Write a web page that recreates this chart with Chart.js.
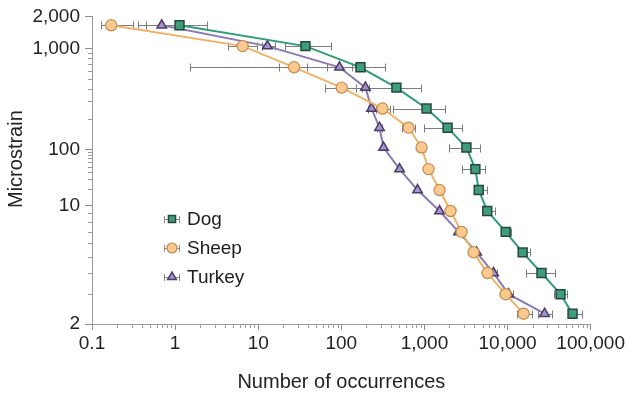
<!DOCTYPE html>
<html>
<head>
<meta charset="utf-8">
<script src="https://cdn.jsdelivr.net/npm/chart.js@4/dist/chart.umd.min.js"></script>
<style>
  html, body { margin: 0; padding: 0; background: #ffffff; }
  #wrap { width: 627px; height: 395px; }
</style>
</head>
<body>
<div id="wrap"><canvas id="strainChart" width="627" height="395"></canvas></div>
<script>
// Strain levels (microstrain) shared by the three species
const strainLevels = [1650, 1050, 650, 410, 255, 165, 105, 45, 19, 9.3, 7.0, 5.3, 4.0, 3.0, 2.3];

// Mean number of occurrences at each strain level
const dogCounts    = [1.13, 37, 170, 460, 1060, 1900, 3200, 4100, 4500, 5700, 9500, 15200, 25600, 43400, 60500];
const sheepCounts  = [0.17, 6.5, 27, 101, 313, 644, 923, 1120, 1520, 2060, 2800, 3900, 5740, 9460, 15600];
const turkeyCounts = [0.69, 12.9, 95, 195, 231, 288, 322, 502, 826, 1520, 2570, 4240, 6790, 10300, 27900];

// Spread of the occurrence counts (low / high ends), null where no bar is drawn
const dogLow    = [0.45, 21, 1.5, 63, 413, 1000, 2000, 2870, 4000, 5000, 8500, 13200, 16900, 35800, 52700];
const dogHigh   = [2.39, 76, 338, 900, 1750, 2870, 4600, 5290, 5590, 6980, 10900, 18400, 36800, 51300, 77700];
const sheepLow  = [0.13, 4.27, 18.0, 62.8, 258, 530, 838, 1020, null, null, null, null, null, null, 12830];
const sheepHigh = [0.31, 9.55, 38.1, 152, 380, 760, 1017, 1230, null, null, null, null, null, null, 19440];
const turkeyLow  = [0.36, 11.0, 68, 178, 207, 265, null, null, null, null, null, null, 6250, 9200, 22960];
const turkeyHigh = [1.05, 16.1, 133, 214, 258, 312, null, null, null, null, null, null, 7380, 11500, 33840];

const speciesNames = ['Dog', 'Sheep', 'Turkey'];

// Axis ticks
const xTickValues = [0.1, 1, 10, 100, 1000, 10000, 100000];
const xTickLabels = ['0.1', '1', '10', '100', '1,000', '10,000', '100,000'];
const yTickValues = [2, 10, 100, 1000, 2000];
const yTickLabels = ['2', '10', '100', '1,000', '2,000'];

const FONT = '"Liberation Sans", Arial, Helvetica, sans-serif';

// Log axis whose labelled values sit at fixed fractions of the axis length,
// with log interpolation between neighbouring labelled values.
class AnchoredLogScale extends Chart.LogarithmicScale {
  static id = 'anchoredLog';
  buildTicks() {
    return this.options.anchors.map(v => ({ value: v }));
  }
  _fraction(value) {
    const a = this.options.anchors, s = this.options.stops;
    let i = 0;
    while (i < a.length - 2 && value > a[i + 1]) i++;
    const l0 = Math.log10(a[i]), l1 = Math.log10(a[i + 1]);
    return s[i] + (s[i + 1] - s[i]) * (Math.log10(value) - l0) / (l1 - l0);
  }
  getPixelForValue(value) {
    if (value === null || value === undefined || isNaN(value) || value <= 0) return NaN;
    return this.getPixelForDecimal(this._fraction(value));
  }
  getValueForPixel(pixel) {
    const f = this.getDecimalForPixel(pixel);
    const a = this.options.anchors, s = this.options.stops;
    let i = 0;
    while (i < s.length - 2 && f > s[i + 1]) i++;
    const l0 = Math.log10(a[i]), l1 = Math.log10(a[i + 1]);
    return Math.pow(10, l0 + (l1 - l0) * (f - s[i]) / (s[i + 1] - s[i]));
  }
}
Chart.register(AnchoredLogScale);

function points(xs) {
  return xs.map((v, i) => ({ x: v, y: strainLevels[i] }));
}

// Horizontal spread bars drawn under the lines
const spreadBars = {
  id: 'spreadBars',
  beforeDatasetsDraw(chart, args, o) {
    const { ctx, scales: { x, y } } = chart;
    ctx.save();
    ctx.strokeStyle = o.color;
    ctx.lineWidth = o.width;
    chart.data.datasets.forEach((ds, i) => {
      if (!chart.isDatasetVisible(i) || !ds.spreadLow) return;
      ds.data.forEach((pt, j) => {
        const lo = ds.spreadLow[j], hi = ds.spreadHigh[j];
        if (lo == null || hi == null) return;
        const py = Math.round(y.getPixelForValue(pt.y)) + 0.5;
        const x1 = Math.round(x.getPixelForValue(lo)) + 0.5;
        const x2 = Math.round(x.getPixelForValue(hi)) + 0.5;
        ctx.beginPath();
        ctx.moveTo(x1, py); ctx.lineTo(x2, py);
        ctx.moveTo(x1, py - o.cap); ctx.lineTo(x1, py + o.cap);
        ctx.moveTo(x2, py - o.cap); ctx.lineTo(x2, py + o.cap);
        ctx.stroke();
      });
    });
    ctx.restore();
  }
};

// Short unlabelled tick marks between the labelled ones
const minorTicks = {
  id: 'minorTicks',
  afterDraw(chart, args, o) {
    const { ctx, scales: { x, y }, chartArea } = chart;
    ctx.save();
    ctx.strokeStyle = o.color;
    ctx.lineWidth = 1;
    ctx.beginPath();
    for (let d = -1; d < 5; d++) {
      for (let m = 2; m <= 9; m++) {
        const px = Math.round(x.getPixelForValue(m * Math.pow(10, d))) + 0.5;
        ctx.moveTo(px, chartArea.bottom);
        ctx.lineTo(px, chartArea.bottom + o.length);
      }
    }
    const yMinor = [3, 4, 5, 6, 7, 8, 9, 20, 30, 40, 50, 60, 70, 80, 90,
                    200, 300, 400, 500, 600, 700, 800, 900];
    yMinor.forEach(v => {
      const py = Math.round(y.getPixelForValue(v)) + 0.5;
      ctx.moveTo(chartArea.left - o.length, py);
      ctx.lineTo(chartArea.left, py);
    });
    ctx.stroke();
    ctx.restore();
  }
};

// Key placed inside the plot area
const speciesKey = {
  id: 'speciesKey',
  afterDraw(chart, args, o) {
    const { ctx } = chart;
    ctx.save();
    chart.data.datasets.forEach((ds, i) => {
      const cx = o.x, cy = o.y + i * o.step;
      ctx.strokeStyle = o.barColor;
      ctx.lineWidth = 1;
      ctx.beginPath();
      ctx.moveTo(cx - o.half, cy + 0.5); ctx.lineTo(cx + o.half, cy + 0.5);
      ctx.moveTo(cx - o.half + 0.5, cy - 3); ctx.lineTo(cx - o.half + 0.5, cy + 4);
      ctx.moveTo(cx + o.half - 0.5, cy - 3); ctx.lineTo(cx + o.half - 0.5, cy + 4);
      ctx.stroke();
      ctx.fillStyle = ds.pointBackgroundColor;
      ctx.strokeStyle = ds.pointBorderColor;
      ctx.lineWidth = ds.pointBorderWidth;
      Chart.helpers.drawPoint(ctx, {
        pointStyle: ds.pointStyle, radius: o.radius, rotation: 0,
        borderWidth: ds.pointBorderWidth
      }, cx, cy);
      ctx.fillStyle = o.color;
      ctx.font = o.font;
      ctx.textAlign = 'left';
      ctx.textBaseline = 'middle';
      ctx.fillText(ds.label, o.textX, cy + 1);
    });
    ctx.restore();
  }
};

new Chart(document.getElementById('strainChart'), {
  type: 'line',
  data: {
    datasets: [
      {
        label: speciesNames[0],
        data: points(dogCounts),
        spreadLow: dogLow, spreadHigh: dogHigh,
        borderColor: '#2f9b78', borderWidth: 2,
        pointStyle: 'rect', pointRadius: 6.3, pointHoverRadius: 6.3,
        pointBackgroundColor: '#3f9d7e', pointBorderColor: '#25473c', pointBorderWidth: 1.5
      },
      {
        label: speciesNames[1],
        data: points(sheepCounts),
        spreadLow: sheepLow, spreadHigh: sheepHigh,
        borderColor: '#f2b167', borderWidth: 2,
        pointStyle: 'circle', pointRadius: 5.6, pointHoverRadius: 5.6,
        pointBackgroundColor: '#f9c990', pointBorderColor: '#c48b4e', pointBorderWidth: 1.2
      },
      {
        label: speciesNames[2],
        data: points(turkeyCounts),
        spreadLow: turkeyLow, spreadHigh: turkeyHigh,
        borderColor: '#8b7ab5', borderWidth: 2,
        pointStyle: 'triangle', pointRadius: 5.5, pointHoverRadius: 5.5,
        pointBackgroundColor: '#a594c8', pointBorderColor: '#4c3c6b', pointBorderWidth: 1.5
      }
    ]
  },
  options: {
    responsive: false,
    devicePixelRatio: 1,
    animation: false,
    events: [],
    elements: { line: { tension: 0, fill: false } },
    layout: { padding: { left: 0, top: 16, right: 36, bottom: 0 } },
    font: { family: FONT },
    scales: {
      x: {
        type: 'logarithmic',
        min: 0.1,
        max: 100000,
        afterBuildTicks: (scale) => { scale.ticks = xTickValues.map(v => ({ value: v })); },
        afterFit: (scale) => { scale.height = 71; },
        grid: { display: true, drawOnChartArea: false, drawTicks: true, tickLength: 6, color: '#8c8c8c' },
        border: { display: true, color: '#9a9a9a', width: 1 },
        ticks: {
          autoSkip: false, maxRotation: 0, padding: 2, color: '#222222',
          font: { family: FONT, size: 19 },
          callback: (value, index) => xTickLabels[index]
        },
        title: {
          display: true, text: 'Number of occurrences', color: '#222222',
          font: { family: FONT, size: 20 }, padding: { top: 0, bottom: 1 }
        }
      },
      y: {
        type: 'anchoredLog',
        min: 2,
        max: 2000,
        anchors: yTickValues,
        stops: [0, 0.3847, 0.5666, 0.8961, 1],
        afterFit: (scale) => { scale.width = 92; },
        grid: { display: true, drawOnChartArea: false, drawTicks: true, tickLength: 7, color: '#8c8c8c' },
        border: { display: true, color: '#9a9a9a', width: 1 },
        ticks: {
          autoSkip: false, padding: 5, color: '#222222',
          font: { family: FONT, size: 19 },
          callback: (value, index) => yTickLabels[index]
        },
        title: {
          display: true, text: '    Microstrain', color: '#222222',
          font: { family: FONT, size: 20 }, padding: { top: 4, bottom: 0 }
        }
      }
    },
    plugins: {
      legend: { display: false },
      tooltip: { enabled: false },
      spreadBars: { color: '#7d7d7d', width: 1, cap: 4 },
      minorTicks: { color: '#9a9a9a', length: 4 },
      speciesKey: {
        x: 172, y: 219, step: 29, half: 8, radius: 5,
        textX: 187, color: '#1c1c1c', barColor: '#8a8a8a',
        font: '19px ' + FONT
      }
    }
  },
  plugins: [spreadBars, minorTicks, speciesKey]
});
</script>
</body>
</html>
